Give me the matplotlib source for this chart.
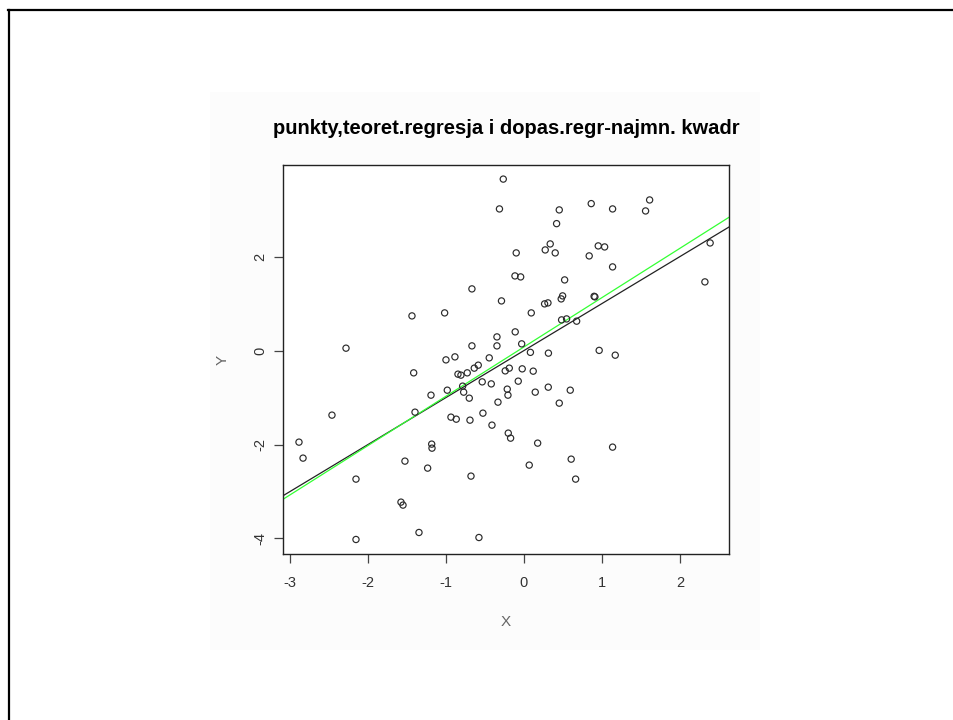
import numpy as np
import matplotlib
matplotlib.use("Agg")
import matplotlib.pyplot as plt
from matplotlib.lines import Line2D
from matplotlib.patches import Rectangle

title = "punkty,teoret.regresja i dopas.regr-najmn. kwadr"
x_label = "X"
y_label = "Y"
x_ticks = [-3, -2, -1, 0, 1, 2]
y_ticks = [-4, -2, 0, 2]

x_vals = [-0.265, -0.314, -0.667, -0.288, -1.436, -1.017, -0.346, -2.282, -0.667, -0.346,
          -1.000, -0.885, -0.445, 0.863, 0.453, 1.137, 1.612, 1.560, 0.419, 0.337,
          0.273, 0.401, -0.099, 0.953, 1.035, 0.837, 2.388, 1.137, -0.115, -0.042,
          0.522, 2.321, 0.496, 0.478, 0.900, 0.910, 0.265, 0.308, 0.094, 0.483,
          0.547, 0.676, -0.112, -0.029, 0.083, 0.314, 0.965, 1.171, -1.414, -0.846,
          -0.808, -0.727, -0.637, -0.586, -0.240, -0.188, -0.535, -0.419, -0.983, -0.786,
          -0.773, -1.192, -0.701, -0.333, -0.214, -0.205, -1.397, -0.526, -2.462, -0.936,
          -0.868, -0.692, -0.410, -0.201, -0.171, -2.885, -1.183, -1.179, -2.833, -1.526,
          -1.235, -0.679, -2.154, -1.577, -1.551, -1.346, -2.154, -0.577, -0.022, 0.119,
          -0.073, 0.145, 0.312, 0.594, 0.453, 0.176, 1.137, 0.606, 0.068, 0.663]
y_vals = [3.650, 3.015, 1.313, 1.057, 0.738, 0.802, 0.291, 0.051, 0.100, 0.100,
          -0.198, -0.134, -0.155, 3.128, 2.994, 3.015, 3.206, 2.972, 2.702, 2.270,
          2.142, 2.079, 2.079, 2.228, 2.206, 2.015, 2.291, 1.781, 1.589, 1.568,
          1.504, 1.462, 1.164, 1.100, 1.155, 1.143, 0.994, 1.015, 0.802, 0.653,
          0.674, 0.626, 0.398, 0.143, -0.038, -0.055, 0.004, -0.098, -0.474, -0.502,
          -0.523, -0.474, -0.374, -0.311, -0.432, -0.374, -0.666, -0.709, -0.843, -0.757,
          -0.885, -0.949, -1.013, -1.098, -0.821, -0.949, -1.311, -1.332, -1.374, -1.417,
          -1.460, -1.481, -1.587, -1.757, -1.864, -1.949, -1.991, -2.077, -2.289, -2.353,
          -2.502, -2.672, -2.736, -3.226, -3.289, -3.872, -4.021, -3.979, -0.389, -0.438,
          -0.651, -0.885, -0.779, -0.843, -1.119, -1.970, -2.055, -2.311, -2.438, -2.736]

# theoretical regression line: intercept, slope
theor_intercept = 0.0
theor_slope = 1.0

x = np.array(x_vals)
y = np.array(y_vals)
fit_slope, fit_intercept = np.polyfit(x, y, 1)

plt.rcParams['font.family'] = ['Liberation Sans', 'DejaVu Sans']
fig = plt.figure(figsize=(9.54, 7.2), dpi=100)
fig.patch.set_facecolor("white")

# faint background of the embedded plot image
fig.add_artist(Rectangle((210/954, 1-650/720), 550/954, 558/720,
                         transform=fig.transFigure, facecolor="#fcfcfc",
                         edgecolor="none", zorder=-5))
# slide border
fig.add_artist(Line2D([9/954, 9/954], [0, 1-10/720], transform=fig.transFigure,
                      color="black", linewidth=1.6, zorder=5))
fig.add_artist(Line2D([8/954, 1], [1-10/720, 1-10/720], transform=fig.transFigure,
                      color="black", linewidth=1.6, zorder=5))

ax = fig.add_axes([283/954, 1-554/720, 446/954, 389/720])
ax.set_zorder(1)
ax.set_facecolor("white")

ax.scatter(x, y, s=20, facecolors="none", edgecolors="#2a2a2a", linewidths=0.85, zorder=3)

xl = (-3.09, 2.63)
yl = (-4.33, 3.95)
xs = np.array([xl[0] - 1, xl[1] + 1])
ax.plot(xs, theor_intercept + theor_slope * xs, color="#222222", linewidth=0.9, zorder=2)
ax.plot(xs, fit_intercept + fit_slope * xs, color="#33ff33", linewidth=0.9, zorder=2)

ax.set_xlim(*xl)
ax.set_ylim(*yl)
ax.set_xticks(x_ticks)
ax.set_yticks(y_ticks)
ax.set_xticklabels([str(t) for t in x_ticks])
ax.set_yticklabels([str(t) for t in y_ticks], rotation=90, va="center")
ax.tick_params(axis="both", direction="out", length=6.5, width=0.9, colors="#444444",
               labelsize=10.5, labelcolor="#333333")
ax.tick_params(axis="x", pad=9.5)
ax.tick_params(axis="y", pad=5)
for sp in ax.spines.values():
    sp.set_linewidth(1.0)
    sp.set_color("#222222")

ax.set_xlabel(x_label, fontsize=11, color="#666666", labelpad=18)
ax.set_ylabel(y_label, fontsize=11, color="#666666", labelpad=17)
ax.set_title(title, fontsize=14.5, fontweight="bold", color="black", pad=22)

fig.savefig("out.png", dpi=100, facecolor="white")
